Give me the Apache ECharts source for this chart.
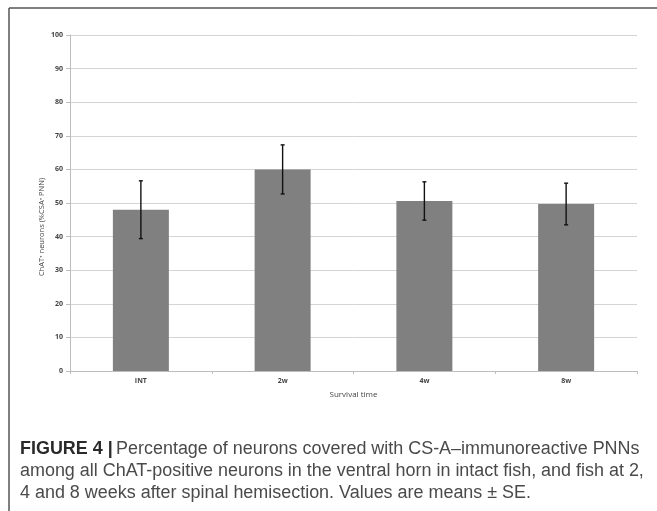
<!DOCTYPE html>
<html>
<head>
<meta charset="utf-8">
<script src="https://cdn.jsdelivr.net/npm/echarts@6/dist/echarts.min.js"></script>
<style>
html,body{margin:0;padding:0;background:#fff;}
#c{width:657px;height:511px;}
</style>
</head>
<body>
<div id="c"></div>
<script>
const categories = ['INT', '2w', '4w', '8w'];
const means = [48, 60, 50.6, 49.7];
const errors = [8.6, 7.3, 5.7, 6.2];
const yTicks = [0, 10, 20, 30, 40, 50, 60, 70, 80, 90, 100];
const yTitle = 'ChAT\u207A neurons (%CSA\u207A PNN)';
const xTitle = 'Survival time';
const captionLines = [
  'Percentage of neurons covered with CS-A\u2013immunoreactive PNNs',
  'among all ChAT-positive neurons in the ventral horn in intact fish, and fish at 2,',
  '4 and 8 weeks after spinal hemisection. Values are means \u00B1 SE.'
];

const chart = echarts.init(document.getElementById('c'), null, {renderer: 'canvas'});
const errData = categories.map((c, i) => [i, means[i] - errors[i], means[i] + errors[i]]);
const capFont = '"Liberation Sans", Arial, sans-serif';
const capSize = '17.95px ';

chart.setOption({
  animation: false,
  grid: {left: 70, right: 20, top: 35, bottom: 140, containLabel: false},
  xAxis: {
    type: 'category',
    data: categories,
    axisLine: {lineStyle: {color: '#bdbdbd', width: 1}},
    axisTick: {show: true, length: 3, lineStyle: {color: '#bdbdbd'}},
    axisLabel: {color: '#444', fontSize: 7, fontWeight: 'bold', fontFamily: '"Open Sans", sans-serif', margin: 6},
    name: xTitle,
    nameLocation: 'middle',
    nameGap: 20,
    nameTextStyle: {color: '#444', fontSize: 8, fontFamily: '"Open Sans", sans-serif'}
  },
  yAxis: {
    type: 'value',
    min: 0, max: 100, interval: 10,
    axisLine: {show: true, lineStyle: {color: '#bdbdbd', width: 1}},
    axisTick: {show: true, length: 4, lineStyle: {color: '#bdbdbd'}},
    splitLine: {lineStyle: {color: '#d4d4d4', width: 1}},
    axisLabel: {
      color: '#444', fontSize: 7, fontWeight: 'bold', fontFamily: '"Open Sans", sans-serif', margin: 7,
      formatter: v => yTicks.includes(v) ? String(v) : ''
    }
  },
  series: [
    {
      type: 'bar',
      data: means,
      barWidth: 56,
      itemStyle: {color: '#808080'},
      z: 2
    },
    {
      type: 'custom',
      data: errData,
      z: 5,
      renderItem: function (params, api) {
        const x = api.value(0);
        const lo = api.coord([x, api.value(1)]);
        const hi = api.coord([x, api.value(2)]);
        const cw = 2;
        const st = {stroke: '#111', lineWidth: 1.4};
        return {
          type: 'group',
          children: [
            {type: 'line', shape: {x1: lo[0], y1: lo[1], x2: hi[0], y2: hi[1]}, style: st},
            {type: 'line', shape: {x1: hi[0] - cw, y1: hi[1], x2: hi[0] + cw, y2: hi[1]}, style: st},
            {type: 'line', shape: {x1: lo[0] - cw, y1: lo[1], x2: lo[0] + cw, y2: lo[1]}, style: st}
          ]
        };
      }
    }
  ],
  graphic: [
    {type: 'line', shape: {x1: 9, y1: 8, x2: 657, y2: 8}, style: {stroke: '#555', lineWidth: 1.5}},
    {type: 'line', shape: {x1: 9, y1: 8, x2: 9, y2: 511}, style: {stroke: '#555', lineWidth: 1.5}},
    {
      type: 'text', x: 42, y: 227, rotation: Math.PI / 2,
      style: {text: yTitle, fill: '#444', font: '7.5px "Open Sans", sans-serif', align: 'center', verticalAlign: 'middle'}
    },
    {
      type: 'text', x: 20, y: 449,
      style: {
        text: '{b|FIGURE 4 |} {n|' + captionLines[0] + '}',
        verticalAlign: 'middle',
        rich: {
          b: {font: 'bold ' + capSize + capFont, fill: '#2a2a2a'},
          n: {font: capSize + capFont, fill: '#4a4a4a'}
        }
      }
    },
    {type: 'text', x: 20, y: 471, style: {text: captionLines[1], font: capSize + capFont, fill: '#4a4a4a', verticalAlign: 'middle'}},
    {type: 'text', x: 20, y: 493, style: {text: captionLines[2], font: capSize + capFont, fill: '#4a4a4a', verticalAlign: 'middle'}}
  ]
});
</script>
</body>
</html>
